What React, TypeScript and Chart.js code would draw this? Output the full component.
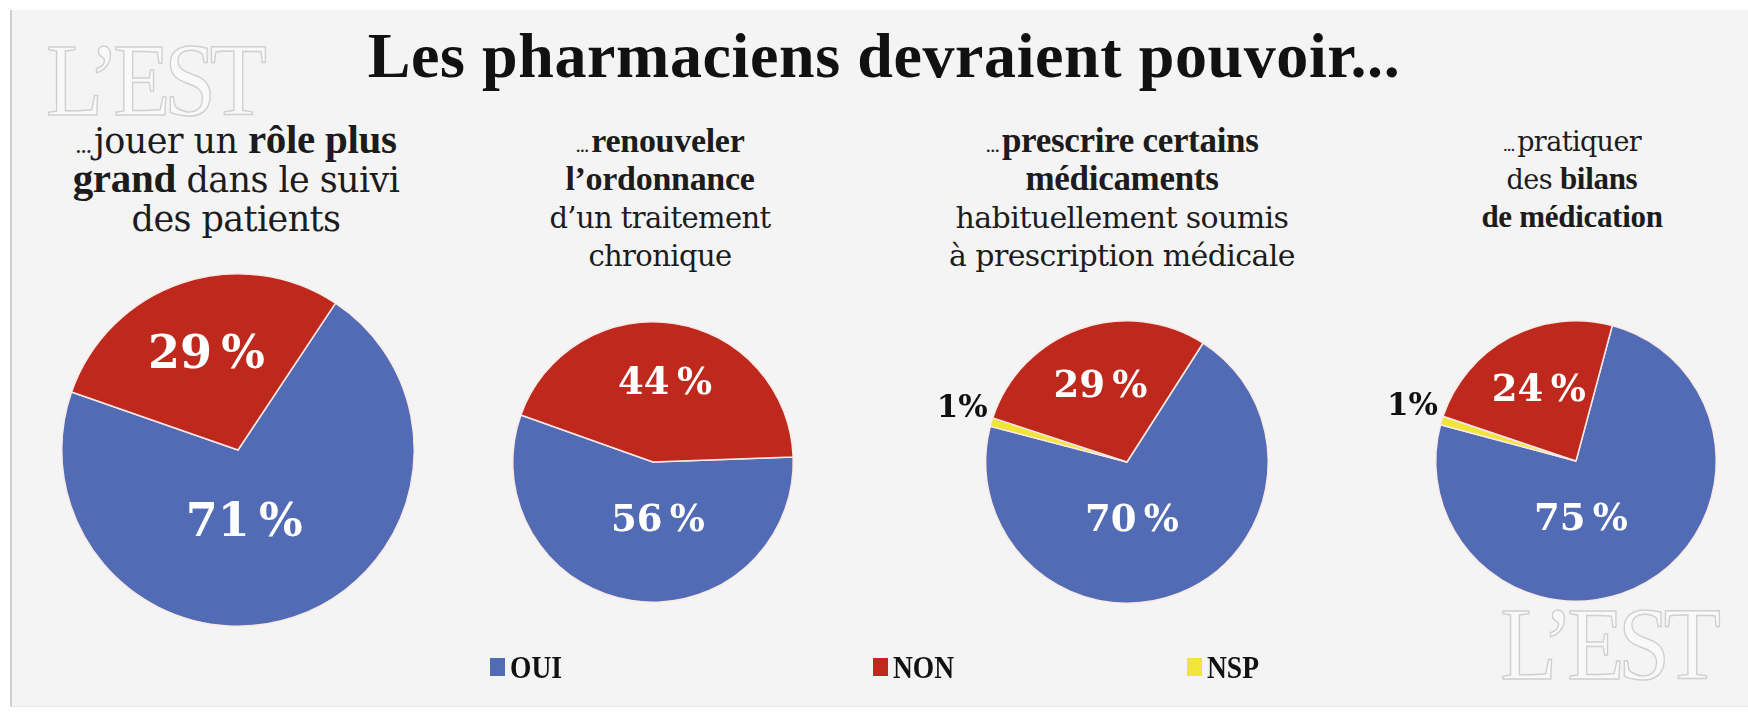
import React, { useEffect, useRef } from 'react';
import { Chart, registerables } from 'chart.js';

Chart.register(...registerables);

// ---------- data ----------
const title = 'Les pharmaciens devraient pouvoir...';
const categories = ['OUI', 'NON', 'NSP'];
const oui = [71, 56, 70, 75];
const non = [29, 44, 29, 24];
const nsp = [0, 0, 1, 1];

// segment: [text, 'r' regular | 'b' bold | 'e' ellipsis]
type Seg = [string, 'r' | 'b' | 'e'];
const question1: Seg[][] = [
  [['...', 'e'], ['jouer un ', 'r'], ['rôle plus', 'b']],
  [['grand', 'b'], [' dans le suivi', 'r']],
  [['des patients', 'r']],
];
const question2: Seg[][] = [
  [['...', 'e'], ['renouveler', 'b']],
  [['l’ordonnance', 'b']],
  [['d’un traitement', 'r']],
  [['chronique', 'r']],
];
const question3: Seg[][] = [
  [['...', 'e'], ['prescrire certains', 'b']],
  [['médicaments', 'b']],
  [['habituellement soumis', 'r']],
  [['à prescription médicale', 'r']],
];
const question4: Seg[][] = [
  [['...', 'e'], ['pratiquer', 'r']],
  [['des ', 'r'], ['bilans', 'b']],
  [['de médication', 'b']],
];
const questions = [question1, question2, question3, question4];

// ---------- style / layout ----------
const COLORS: Record<string, string> = { OUI: '#516bb4', NON: '#bf291d', NSP: '#f1e43a' };
const SERIF = '"Liberation Serif", "Times New Roman", serif';
const SLAB = '"DejaVu Serif", serif';
const pieLayout = [
  { cx: 238, cy: 450, r: 177, rotation: 33.6 },
  { cx: 653, cy: 462, r: 141, rotation: 88 },
  { cx: 1127, cy: 462, r: 142, rotation: 32.6 },
  { cx: 1576, cy: 461, r: 141, rotation: 15 },
];
const subtitleLayout = [
  { cx: 236, top: 120, size: 41, lh: 39 },
  { cx: 660, top: 122, size: 34, lh: 38 },
  { cx: 1122, top: 122, size: 35, lh: 38 },
  { cx: 1572, top: 122, size: 31, lh: 38 },
];
const legendLayout = [490, 873, 1187];
const PAD = 90;

const labelPlugin = {
  id: 'sliceLabels',
  afterDatasetsDraw(chart: any) {
    const ctx = chart.ctx;
    const meta = chart.getDatasetMeta(0);
    const values: number[] = chart.data.datasets[0].data;
    const total = values.reduce((a, b) => a + b, 0);
    let maxIdx = 0;
    values.forEach((v, i) => { if (v > values[maxIdx]) maxIdx = i; });
    ctx.save();
    meta.data.forEach((arc: any, i: number) => {
      const p = arc.getProps(['x', 'y', 'startAngle', 'endAngle', 'outerRadius'], true);
      const R = p.outerRadius;
      const mid = (p.startAngle + p.endAngle) / 2;
      const v = values[i];
      const fs = Math.round(R * 0.262);
      ctx.textBaseline = 'middle';
      if (v / total < 0.05) {
        ctx.font = `bold 31px ${SLAB}`;
        ctx.fillStyle = '#111';
        ctx.textAlign = 'right';
        const px = p.x + Math.cos(mid) * (R + 4);
        const py = p.y + Math.sin(mid) * (R + 4) - 12;
        ctx.fillText(`${v}%`, px, py);
        return;
      }
      ctx.font = `bold ${fs}px ${SLAB}`;
      ctx.fillStyle = '#ffffff';
      ctx.textAlign = 'center';
      let px: number, py: number;
      if (i === maxIdx) {
        px = p.x + R * 0.035;
        py = p.y + R * 0.42;
      } else {
        px = p.x + Math.cos(mid) * R * 0.56;
        py = p.y + Math.sin(mid) * R * 0.56;
      }
      ctx.fillText(`${v}\u2009%`, px, py);
    });
    ctx.restore();
  },
};

function Pie({ index }: { index: number }) {
  const ref = useRef<HTMLCanvasElement | null>(null);
  const L = pieLayout[index];
  const size = 2 * L.r + 2 * PAD;
  useEffect(() => {
    if (!ref.current) return;
    // clockwise order: OUI, NSP, NON
    const order = ['OUI', 'NSP', 'NON'];
    const valueOf: Record<string, number> = { OUI: oui[index], NON: non[index], NSP: nsp[index] };
    const labels = order.filter((c) => valueOf[c] > 0);
    const chart = new Chart(ref.current, {
      type: 'pie',
      data: {
        labels,
        datasets: [
          {
            data: labels.map((c) => valueOf[c]),
            backgroundColor: labels.map((c) => COLORS[c]),
            borderColor: '#fbe9e6',
            borderWidth: 1.5,
          },
        ],
      },
      options: {
        responsive: false,
        animation: false,
        rotation: L.rotation,
        layout: { padding: PAD },
        events: [],
        plugins: { legend: { display: false }, tooltip: { enabled: false } },
      },
      plugins: [labelPlugin],
    });
    return () => chart.destroy();
  }, [index]);
  return (
    <canvas
      ref={ref}
      width={size}
      height={size}
      style={{ position: 'absolute', left: L.cx - L.r - PAD, top: L.cy - L.r - PAD, width: size, height: size }}
    />
  );
}

function segStyle(kind: 'r' | 'b' | 'e', size: number): React.CSSProperties {
  if (kind === 'b') return { fontFamily: SERIF, fontWeight: 700, fontSize: size, letterSpacing: '-0.3px' };
  if (kind === 'e')
    return { fontFamily: SERIF, fontWeight: 400, fontSize: Math.round(size * 0.62), letterSpacing: '-1px', marginRight: 3 };
  return { fontFamily: SLAB, fontWeight: 400, fontSize: Math.round(size * 0.86), letterSpacing: '-0.6px' };
}

function Subtitle({ index }: { index: number }) {
  const S = subtitleLayout[index];
  return (
    <div
      style={{
        position: 'absolute',
        left: S.cx - 240,
        width: 480,
        top: S.top,
        textAlign: 'center',
        fontFamily: SERIF,
        fontSize: S.size,
        lineHeight: `${S.lh}px`,
        color: '#1c1c1c',
        whiteSpace: 'nowrap',
      }}
    >
      {questions[index].map((line, li) => (
        <div key={li} style={{ height: S.lh }}>
          {line.map(([t, k], si) => (
            <span key={si} style={segStyle(k, S.size)}>{t}</span>
          ))}
        </div>
      ))}
    </div>
  );
}

function Watermark({ left, top }: { left: number; top: number }) {
  return (
    <div
      style={{
        position: 'absolute',
        left,
        top,
        fontFamily: SERIF,
        fontSize: 104,
        lineHeight: '104px',
        color: '#f9f9f9',
        WebkitTextStroke: '1.5px #d0d0d0',
        transform: 'scaleX(0.9)',
        transformOrigin: 'left top',
        letterSpacing: '-7px',
        whiteSpace: 'nowrap',
      }}
    >
      L’EST
    </div>
  );
}

export default function App() {
  return (
    <div style={{ position: 'absolute', left: 0, top: 0, width: 1748, height: 715, background: '#ffffff', overflow: 'hidden' }}>
      <div
        style={{
          position: 'absolute',
          left: 10,
          top: 10,
          right: 0,
          height: 696,
          background: '#f4f4f4',
          borderLeft: '2px solid #cfcfcf',
          borderBottom: '1px solid #e6e6e6',
        }}
      />
      <Watermark left={46} top={28} />
      <Watermark left={1500} top={592} />
      <div
        style={{
          position: 'absolute',
          left: 0,
          width: 1768,
          top: 24,
          textAlign: 'center',
          fontFamily: SERIF,
          fontWeight: 700,
          fontSize: 64,
          lineHeight: '64px',
          color: '#111',
          letterSpacing: '0.6px',
        }}
      >
        {title}
      </div>
      {questions.map((_, i) => (
        <Subtitle key={i} index={i} />
      ))}
      {questions.map((_, i) => (
        <Pie key={i} index={i} />
      ))}
      {categories.map((c, i) => (
        <div
          key={c}
          style={{
            position: 'absolute',
            left: legendLayout[i],
            top: 650,
            height: 34,
            display: 'flex',
            alignItems: 'center',
            fontFamily: SERIF,
            fontWeight: 700,
            fontSize: 32,
            color: '#111',
          }}
        >
          <span style={{ display: 'inline-block', width: 15, height: 18, background: COLORS[c], marginRight: 5 }} />
          <span style={{ transform: 'scaleX(0.86)', transformOrigin: 'left center', display: 'inline-block' }}>{c}</span>
        </div>
      ))}
    </div>
  );
}
